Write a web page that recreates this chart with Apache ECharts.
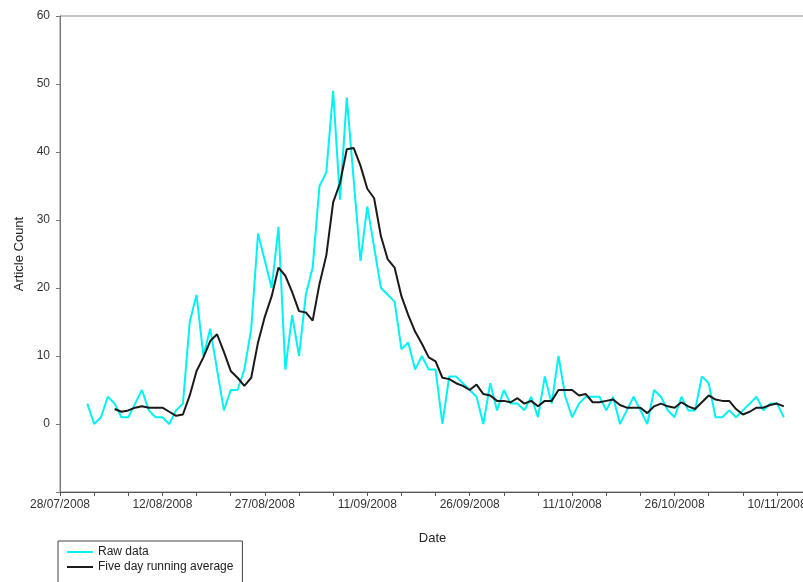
<!DOCTYPE html>
<html>
<head>
<meta charset="utf-8">
<script src="https://cdn.jsdelivr.net/npm/echarts@6/dist/echarts.min.js"></script>
<style>
  html, body { margin: 0; padding: 0; background: #fff; }
  #chart { width: 803px; height: 582px; }
</style>
</head>
<body>
<div id="chart"></div>
<script>
// axis starts on 28/07/2008, raw data from 01/08/2008, average from 05/08/2008
var axisStart = Date.UTC(2008, 6, 28);
var rawStart = Date.UTC(2008, 7, 1);
var avgStart = Date.UTC(2008, 7, 5);
var DAY = 86400000;

var rawData = [3, 0, 1, 4, 3, 1, 1, 3, 5, 2, 1, 1, 0, 2, 3, 15, 19, 10, 14, 8,
  2, 5, 5, 8, 14, 28, 24, 20, 29, 8, 16, 10, 19, 23, 35, 37, 49, 33, 48, 36,
  24, 32, 26, 20, 19, 18, 11, 12, 8, 10, 8, 8, 0, 7, 7, 6, 5, 4, 0, 6,
  2, 5, 3, 3, 2, 4, 1, 7, 3, 10, 4, 1, 3, 4, 4, 4, 2, 4, 0, 2,
  4, 2, 0, 5, 4, 2, 1, 4, 2, 2, 7, 6, 1, 1, 2, 1, 2, 3, 4, 2,
  3, 3, 1];

var avgData = [2.2, 1.8, 2.0, 2.4, 2.6, 2.4, 2.4, 2.4, 1.8, 1.2, 1.4, 4.2, 7.8, 9.8, 12.2, 13.2,
  10.6, 7.8, 6.8, 5.6, 6.8, 12.0, 15.8, 18.8, 23.0, 21.8, 19.4, 16.6, 16.4, 15.2, 20.6, 24.8,
  32.6, 35.4, 40.4, 40.6, 38.0, 34.6, 33.2, 27.6, 24.2, 23.0, 18.8, 16.0, 13.6, 11.8, 9.8, 9.2,
  6.8, 6.6, 6.0, 5.6, 5.0, 5.8, 4.4, 4.2, 3.4, 3.4, 3.2, 3.8, 3.0, 3.4, 2.6, 3.4,
  3.4, 5.0, 5.0, 5.0, 4.2, 4.4, 3.2, 3.2, 3.4, 3.6, 2.8, 2.4, 2.4, 2.4, 1.6, 2.6,
  3.0, 2.6, 2.4, 3.2, 2.6, 2.2, 3.2, 4.2, 3.6, 3.4, 3.4, 2.2, 1.4, 1.8, 2.4, 2.4,
  2.8, 3.0, 2.6];

var seriesNames = ['Raw data', 'Five day running average'];

function toPoints(start, values) {
  var off = (start - axisStart) / DAY;
  var pts = [];
  for (var i = 0; i < values.length; i++) {
    pts.push([off + i, values[i]]);
  }
  return pts;
}

function pad(n) { return n < 10 ? '0' + n : '' + n; }

function dayLabel(v) {
  if (v % 15 !== 0) return '';
  var d = new Date(axisStart + v * DAY);
  return pad(d.getUTCDate()) + '/' + pad(d.getUTCMonth() + 1) + '/' + d.getUTCFullYear();
}

var chart = echarts.init(document.getElementById('chart'), null, {renderer: 'canvas'});

var option = {
  animation: false,
  backgroundColor: '#fff',
  textStyle: {fontFamily: '"Liberation Sans", Arial, sans-serif'},
  grid: {
    left: 60, top: 16, right: -2, bottom: 90,
    outerBoundsMode: 'none',
    containLabel: false,
    show: true, borderColor: '#888', borderWidth: 1
  },
  legend: {
    orient: 'vertical',
    left: 58, top: 541,
    height: 80,
    data: seriesNames,
    icon: 'rect',
    itemWidth: 26, itemHeight: 2,
    itemGap: 3,
    padding: [5, 9, 12, 9],
    borderColor: '#444', borderWidth: 1,
    textStyle: {fontSize: 12, color: '#222'}
  },
  xAxis: {
    type: 'value',
    min: 0, max: 109.1,
    interval: 5,
    name: 'Date',
    nameLocation: 'middle',
    nameGap: 40,
    nameTextStyle: {fontSize: 13, color: '#222'},
    axisLine: {onZero: false, lineStyle: {color: '#555'}},
    axisTick: {length: 4, lineStyle: {color: '#555'}},
    axisLabel: {formatter: dayLabel, showMaxLabel: false, fontSize: 12, color: '#333', margin: 7},
    splitLine: {show: false}
  },
  yAxis: {
    type: 'value',
    min: -10, max: 60,
    interval: 10,
    name: 'Article Count',
    nameLocation: 'middle',
    nameGap: 34,
    nameTextStyle: {fontSize: 13, color: '#222'},
    axisLine: {show: true, onZero: false, lineStyle: {color: '#777'}},
    axisTick: {show: true, length: 4, lineStyle: {color: '#777'}},
    axisLabel: {
      formatter: function (v) { return v < 0 ? '' : v; },
      fontSize: 12, color: '#333', margin: 10
    },
    splitLine: {show: false}
  },
  series: [
    {
      name: seriesNames[0],
      type: 'line',
      data: toPoints(rawStart, rawData),
      symbol: 'none',
      lineStyle: {color: '#00f2f2', width: 2},
      itemStyle: {color: '#00f2f2'}
    },
    {
      name: seriesNames[1],
      type: 'line',
      data: toPoints(avgStart, avgData),
      symbol: 'none',
      lineStyle: {color: '#1a1a1a', width: 2},
      itemStyle: {color: '#1a1a1a'}
    }
  ]
};

chart.setOption(option);
</script>
</body>
</html>
